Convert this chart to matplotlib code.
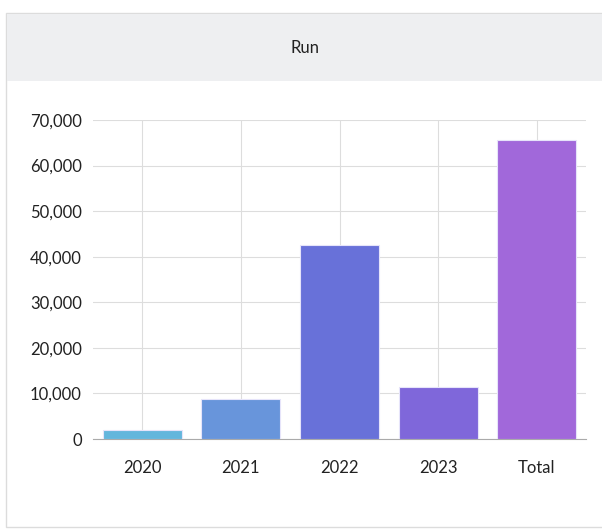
import matplotlib.pyplot as plt
from matplotlib.patches import Rectangle
from matplotlib.ticker import FuncFormatter

categories = ["2020", "2021", "2022", "2023", "Total"]
runs = [1950, 8800, 42600, 11450, 65700]
colors = ["#63b6dc", "#6895db", "#6871d9", "#7f67da", "#a168da"]
title = "Run"

plt.rcParams["font.family"] = ["Lato", "DejaVu Sans"]

W, H = 602, 529
fig = plt.figure(figsize=(W / 100, H / 100), dpi=100)

def fx(px):
    return px / W

def fy(py):
    return 1 - py / H

# card frame and header band (behind the axes)
fig.patches.append(Rectangle((fx(6), fy(527)), fx(602) - fx(6) + 0.01, fy(13) - fy(527),
                             transform=fig.transFigure, facecolor="white",
                             edgecolor="#dcdcdc", linewidth=1, zorder=-2))
fig.patches.append(Rectangle((fx(7), fy(81)), 1, fy(14) - fy(81),
                             transform=fig.transFigure, facecolor="#eeeff1",
                             edgecolor="none", zorder=-1))
fig.text(fx(305), fy(48), title, ha="center", va="center", fontsize=12, color="#222222")

ax = fig.add_axes([fx(93), fy(439), fx(586) - fx(93), fy(120) - fy(439)])
ax.set_facecolor("none")
x = range(len(categories))
ax.bar(x, runs, width=0.8, color=colors, edgecolor="#e6e4fa", linewidth=0.8, zorder=3)
ax.set_xlim(-0.5, len(categories) - 0.5)
ax.set_ylim(0, 70000)
ax.set_yticks(range(0, 70001, 10000))
ax.yaxis.set_major_formatter(FuncFormatter(lambda v, p: f"{int(v):,}"))
ax.set_xticks(list(x))
ax.set_xticklabels(categories)
ax.grid(True, color="#dddddd", linewidth=0.8, zorder=0)
for s in ["top", "right", "left"]:
    ax.spines[s].set_visible(False)
ax.spines["bottom"].set_color("#aaaaaa")
ax.tick_params(axis="both", length=0, labelsize=12, colors="#222222")
ax.tick_params(axis="x", pad=15)
ax.tick_params(axis="y", pad=8)

fig.savefig("out.png", dpi=100)
